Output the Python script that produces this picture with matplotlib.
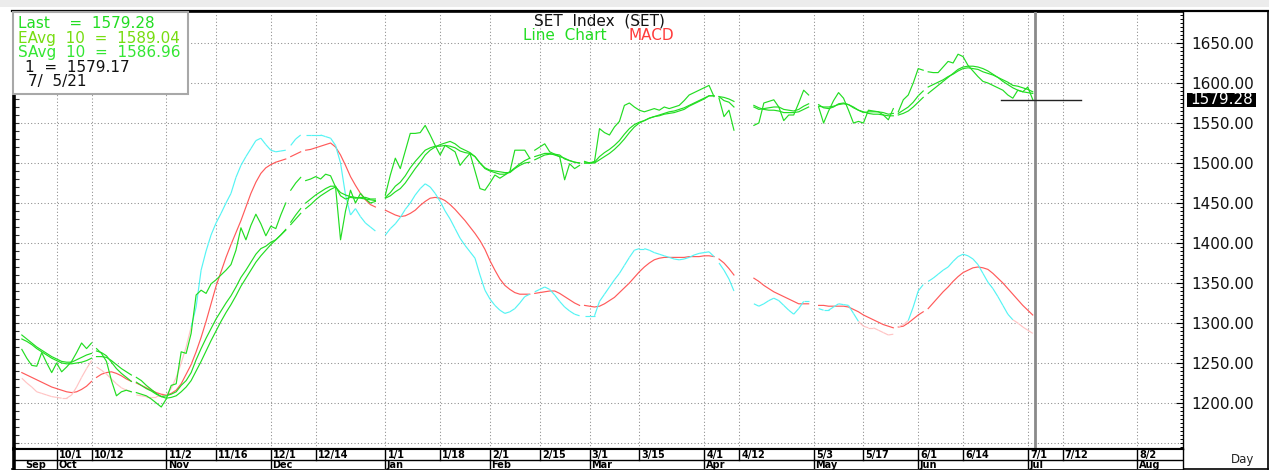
import numpy as np
import pandas as pd
import matplotlib
matplotlib.use("Agg")
import matplotlib.pyplot as plt
from matplotlib.collections import LineCollection
from matplotlib.patches import Rectangle
from matplotlib.ticker import MultipleLocator, FixedLocator, FormatStrFormatter

nan = None
first_day = "2020-09-22"
last_day = "2021-07-02"
axis_origin = "2020-10-01"

# one value per weekday slot (Sep 22 2020 .. Jul 2 2021); None = no point
close = [
    1267, 1256, 1247, 1246, 1263, 1250, 1238,
    1250, 1239, 1245, 1252, 1263, 1275, 1268, 1275, 1268, 1262, 1252, 1228, 1209, 1214, 1216, 1214, 1213, 1211, 1209, 1205, 1200, 1195,
    1205, 1222, 1224, 1264, 1262, 1287, 1335, 1341, 1337, 1349, 1354, 1360, 1366, 1373, 1391, 1419, 1404, 1422, 1436, 1424, 1409,
    1421, 1418, 1435, 1450, 1466, 1475, 1482, 1478, 1480, 1483, 1480, 1486, 1484, 1470, 1404, 1440, 1466, 1450, 1462, 1455, 1450, 1452, nan,
    1460, 1485, 1506, 1493, 1515, 1537, 1537, 1538, 1547, 1535, 1522, 1510, 1522, 1518, 1514, 1497, 1505, 1512, 1490, 1468, 1466,
    1475, 1485, 1481, 1485, 1489, 1516, 1516, 1516, 1506, 1516, 1520, 1524, 1514, 1511, 1508, 1479, 1499, 1493, 1497, 1502,
    1500, 1502, 1543, 1538, 1535, 1545, 1552, 1572, 1575, 1570, 1566, 1564, 1566, 1568, 1566, 1570, 1568, 1570, 1572, 1578, 1585, 1588, 1591,
    1594, 1597, 1583, 1581, 1558, 1566, 1541, nan, nan, nan, 1547, 1550, 1575, 1577, 1579, 1570, 1553, 1560, 1560, 1575, 1591, 1585,
    nan, 1570, 1550, 1565, 1578, 1588, 1581, 1566, 1550, 1552, 1550, 1566, 1565, 1564, 1560, 1554, 1568, 1564, 1579, 1585, 1600,
    1618, 1616, 1614, 1613, 1613, 1620, 1627, 1625, 1636, 1633, 1622, 1615, 1608, 1602, 1600, 1597, 1594, 1591, 1585, 1581, 1591, 1589,
    1595, 1579.28,
]
ema10 = [
    1285, 1280, 1275, 1270, 1266, 1262, 1258,
    1255, 1252, 1251, 1251, 1254, 1257, 1260, 1262, 1265, 1263, 1259, 1251, 1243, 1237, 1232, 1227, 1226, 1222, 1218, 1215, 1211, 1208,
    1209, 1211, 1214, 1222, 1228, 1238, 1254, 1268, 1281, 1293, 1305, 1315, 1325, 1334, 1345, 1357, 1366, 1376, 1386, 1393, 1396,
    1401, 1404, 1410, 1417, 1426, 1435, 1443, 1450, 1455, 1460, 1464, 1468, 1471, 1471, 1459, 1455, 1457, 1456, 1457, 1457, 1455, 1455, nan,
    1457, 1463, 1471, 1476, 1484, 1494, 1502, 1509, 1516, 1519, 1521, 1521, 1522, 1521, 1519, 1515, 1513, 1512, 1508, 1500, 1494,
    1491, 1490, 1489, 1488, 1488, 1493, 1497, 1500, 1501, 1504, 1507, 1510, 1511, 1511, 1510, 1505, 1503, 1501, 1500, 1500,
    1500, 1501, 1508, 1513, 1517, 1522, 1528, 1536, 1543, 1548, 1551, 1553, 1556, 1558, 1559, 1561, 1562, 1563, 1565, 1567, 1571, 1574, 1577,
    1580, 1584, 1584, 1583, 1578, 1576, 1570, nan, nan, nan, 1570, 1567, 1568, 1569, 1570, 1570, 1567, 1566, 1565, 1567, 1571, 1574,
    nan, 1573, 1569, 1568, 1570, 1574, 1575, 1573, 1569, 1566, 1563, 1564, 1564, 1564, 1563, 1561, 1562, 1562, 1566, 1570, 1576,
    1584, 1590, 1595, 1598, 1601, 1604, 1608, 1611, 1615, 1618, 1619, 1618, 1617, 1614, 1612, 1610, 1607, 1604, 1601, 1597, 1596, 1594,
    1592, 1589.04,
]
sma10 = [
    1280, 1277, 1273, 1268, 1264, 1260, 1256,
    1253, 1250, 1249, 1249, 1250, 1251, 1253, 1256, 1258, 1258, 1257, 1253, 1248, 1243, 1239, 1235, 1232, 1228, 1222, 1217, 1212, 1208,
    1206, 1207, 1209, 1214, 1220, 1228, 1240, 1252, 1265, 1278, 1290, 1302, 1313, 1323, 1334, 1346, 1356, 1366, 1376, 1384, 1391,
    1398, 1404, 1410, 1416, 1423, 1430, 1437, 1443, 1448, 1454, 1459, 1463, 1467, 1470, 1463, 1460, 1458, 1457, 1456, 1455, 1454, 1453, nan,
    1456, 1459, 1464, 1468, 1475, 1484, 1493, 1501, 1510, 1516, 1520, 1523, 1525, 1527, 1524, 1519, 1516, 1513, 1508, 1500, 1493,
    1490, 1488, 1486, 1486, 1489, 1494, 1499, 1503, 1506, 1508, 1510, 1512, 1512, 1510, 1508, 1506, 1503, 1501, 1500, 1500,
    1500, 1500, 1504, 1508, 1512, 1517, 1523, 1530, 1538, 1545, 1550, 1553, 1556, 1558, 1560, 1562, 1564, 1565, 1567, 1569, 1572, 1575, 1578,
    1581, 1584, 1584, 1583, 1582, 1580, 1577, nan, nan, nan, 1572, 1569, 1567, 1566, 1566, 1565, 1563, 1563, 1563, 1564, 1567, 1570,
    nan, 1571, 1570, 1570, 1571, 1573, 1574, 1573, 1570, 1566, 1564, 1562, 1561, 1561, 1560, 1559, 1559, 1560, 1562, 1565, 1570,
    1576, 1582, 1587, 1592, 1597, 1602, 1607, 1612, 1617, 1620, 1621, 1621, 1620, 1618, 1615, 1611, 1607, 1602, 1598, 1594, 1591, 1589,
    1588, 1586.96,
]
# MACD lines as drawn on the price scale
macd_line = [
    1231, 1225, 1220, 1214, 1212, 1210, 1208,
    1207, 1206, 1206, 1210, 1220, 1232, 1243, 1253, 1245, 1241, 1236, 1230, 1224, 1219, 1216, 1214, 1210, 1209, 1208, 1208, 1208, 1209,
    1210, 1218, 1232, 1250, 1270, 1295, 1320, 1366, 1390, 1410, 1425, 1437, 1450, 1462, 1482, 1497, 1508, 1518, 1528, 1531, 1523,
    1516, 1514, 1515, 1516, 1522, 1530, 1535, 1535, 1535, 1535, 1535, 1533, 1531, 1522, 1500, 1460, 1435, 1443, 1433, 1425, 1420, 1415, nan,
    1410, 1418, 1424, 1432, 1442, 1450, 1460, 1468, 1474, 1470, 1462, 1452, 1440, 1430, 1418, 1406, 1397, 1389, 1381, 1360, 1341,
    1330, 1322, 1316, 1312, 1314, 1318, 1325, 1333, 1336, 1339, 1342, 1345, 1342, 1335, 1327, 1320, 1315, 1311, 1309, 1309,
    1309, 1309, 1327, 1336, 1345, 1354, 1362, 1372, 1382, 1391, 1393, 1393, 1391, 1388, 1386, 1384, 1382, 1380, 1379, 1380, 1382, 1385, 1387,
    1388, 1389, 1383, 1375, 1366, 1355, 1340, nan, nan, nan, 1324, 1321, 1324, 1328, 1331, 1328, 1322, 1316, 1311, 1318, 1327, 1327,
    nan, 1318, 1316, 1316, 1320, 1324, 1323, 1322, 1312, 1302, 1296, 1294, 1294, 1291, 1288, 1285, 1286, 1295, 1298, 1303, 1320,
    1340, 1348, 1352, 1356, 1361, 1366, 1370, 1377, 1383, 1386, 1384, 1380, 1373, 1362, 1351, 1343, 1333, 1322, 1311, 1304, 1300, 1295,
    1291, 1287,
]
signal_line = [
    1238, 1235, 1232, 1229, 1226, 1223, 1220,
    1218, 1216, 1214, 1213, 1214, 1217, 1221, 1227, 1232, 1236, 1238, 1239, 1237, 1234, 1230, 1227, 1225, 1222, 1219, 1216, 1213, 1211,
    1210, 1212, 1216, 1224, 1236, 1248, 1264, 1282, 1302, 1324, 1346, 1364, 1382, 1398, 1413, 1428, 1445, 1462, 1476, 1487, 1494,
    1498, 1501, 1503, 1505, 1508, 1511, 1514, 1516, 1517, 1519, 1521, 1523, 1525, 1520, 1510, 1497, 1483, 1472, 1462, 1454, 1448, 1445, nan,
    1441, 1438, 1435, 1433, 1434, 1437, 1441, 1447, 1452, 1456, 1457, 1456, 1453, 1448, 1442, 1435, 1428, 1420, 1412, 1403, 1392,
    1378, 1366, 1355, 1347, 1342, 1338, 1336, 1336, 1336, 1337, 1338, 1339, 1340, 1340, 1337, 1333, 1329, 1325, 1322, 1322,
    1321, 1320, 1321, 1324, 1328, 1332, 1338, 1344, 1350, 1357, 1364, 1370, 1375, 1379, 1381, 1382, 1382, 1382, 1382, 1382, 1383, 1383, 1383,
    1384, 1384, 1383, 1380, 1375, 1368, 1360, nan, nan, nan, 1356, 1352, 1347, 1343, 1339, 1336, 1333, 1330, 1327, 1324, 1324, 1324,
    nan, 1322, 1322, 1321, 1321, 1321, 1321, 1320, 1317, 1314, 1310, 1307, 1304, 1301, 1298, 1296, 1294, 1295, 1296, 1300, 1305,
    1310, 1314, 1318, 1325, 1332, 1339, 1345, 1352, 1358, 1363, 1366, 1369, 1370, 1369, 1367, 1362, 1356, 1350, 1343, 1336, 1329, 1322,
    1316, 1310,
]
# holidays after which the line restarts
line_breaks = ["2020-10-13", "2020-10-23", "2020-12-07", "2020-12-10", "2021-02-12",
               "2021-02-26", "2021-04-06", "2021-05-26", "2021-06-03"]

day_ticks = ["2020-10-01", "2020-10-12", "2020-11-02", "2020-11-16", "2020-12-01", "2020-12-14",
             "2021-01-01", "2021-01-18", "2021-02-01", "2021-02-15", "2021-03-01", "2021-03-15",
             "2021-04-01", "2021-04-12", "2021-05-03", "2021-05-17", "2021-06-01", "2021-06-14",
             "2021-07-01", "2021-07-12", "2021-08-02"]
day_labels = ["10/1", "10/12", "11/2", "11/16", "12/1", "12/14", "1/1", "1/18", "2/1", "2/15",
              "3/1", "3/15", "4/1", "4/12", "5/3", "5/17", "6/1", "6/14", "7/1", "7/12", "8/2"]
month_ticks = ["2020-10-01", "2020-11-02", "2020-12-01", "2021-01-01", "2021-02-01", "2021-03-01",
               "2021-04-01", "2021-05-03", "2021-06-01", "2021-07-01", "2021-08-02"]
month_labels = ["Oct", "Nov", "Dec", "Jan", "Feb", "Mar", "Apr", "May", "Jun", "Jul", "Aug"]
first_month_label = "Sep"
price_ticks = [1200, 1250, 1300, 1350, 1400, 1450, 1500, 1550, 1600, 1650]
grid_levels = [1150, 1200, 1250, 1300, 1350, 1400, 1450, 1500, 1550, 1600, 1650]
last_value = 1579.28
ema_last = 1589.04
sma_last = 1586.96
cursor_value = 1579.17
cursor_date = "7/  5/21"
macd_zero = 1305

# ---------------------------------------------------------------
W, H = 1269, 470
GREEN = "#22dd22"
RED = "#ff5a5a"
CYAN = "#55f4f4"
PINK = "#ffc4c4"
GRID = "#8a8a8a"
GRID_STYLE = dict(color=GRID, lw=0.75, ls=(0, (1.0, 2.2)), zorder=1)
LW = 0.85

dates = pd.bdate_range(first_day, last_day).values.astype("datetime64[D]")
slots = np.busday_count(np.datetime64(axis_origin), dates).astype(float)
for s in (close, ema10, sma10, macd_line, signal_line):
    assert len(s) == len(slots), (len(s), len(slots))


def slot_of(d):
    return float(np.busday_count(np.datetime64(axis_origin), np.datetime64(d)))


def series_xy(vals):
    y = np.array([np.nan if v is None else v for v in vals], float)
    bx = np.array([slot_of(b) - 0.5 for b in line_breaks])
    X = np.concatenate([slots, bx])
    Y = np.concatenate([y, np.full(len(bx), np.nan)])
    o = np.argsort(X, kind="stable")
    return X[o], Y[o]


def fx(px):
    return px / W


def fy(py):
    return 1 - py / H


fig = plt.figure(figsize=(W / 100, H / 100), dpi=100)
fig.patch.set_facecolor("white")

# background / frame
bg = fig.add_axes([0, 0, 1, 1])
bg.set_xlim(0, W)
bg.set_ylim(H, 0)
bg.axis("off")
bg.add_patch(Rectangle((0, 0), W, 7, color="#ececec", lw=0))
bg.plot([12, 1268], [11, 11], color="black", lw=1.6)
bg.plot([1267.5, 1267.5], [11, 469], color="black", lw=1.2)
bg.plot([12, 1268], [469.3, 469.3], color="black", lw=1.2)
bg.text(1243, 459, "Day", ha="center", va="center", fontsize=8.5, color="#222222")

x_left, x_right = -8.57, 226.17
y_bot, y_top = 1142.5, 1688.75

ax = fig.add_axes([fx(14), fy(449), (1183 - 14) / W, (449 - 12) / H])
ax.set_xlim(x_left, x_right)
ax.set_ylim(y_bot, y_top)
ax.set_facecolor("white")
for k, sp in ax.spines.items():
    sp.set_color("black")
ax.spines["left"].set_linewidth(2.6)
ax.spines["top"].set_linewidth(1.2)
ax.spines["right"].set_linewidth(1.0)
ax.spines["bottom"].set_linewidth(1.5)
ax.set_xticks([])
ax.yaxis.set_major_locator(FixedLocator(price_ticks))
ax.yaxis.set_minor_locator(MultipleLocator(10))
ax.tick_params(axis="y", which="both", direction="in", left=True, right=False,
               labelleft=False, labelright=False, length=3.5, width=0.8, color="#333333")

ax2 = ax.twinx()
ax2.set_ylim(y_bot, y_top)
ax2.yaxis.set_major_locator(FixedLocator(price_ticks))
ax2.yaxis.set_minor_locator(MultipleLocator(5))
ax2.yaxis.set_major_formatter(FormatStrFormatter("%.2f"))
ax2.tick_params(axis="y", which="major", direction="in", length=5, width=0.8, pad=6,
                labelsize=11, labelcolor="#111111")
ax2.tick_params(axis="y", which="minor", direction="in", length=2.5, width=0.7)
for sp in ax2.spines.values():
    sp.set_visible(False)

# grid
for v in grid_levels:
    ax.axhline(v, **GRID_STYLE)
for d in day_ticks:
    ax.axvline(slot_of(d), **GRID_STYLE)

# MACD / signal
X, Y = series_xy(signal_line)
ax.plot(X, Y, color=RED, lw=LW, zorder=3)
X, Y = series_xy(macd_line)
segs, cols = [], []
for i in range(len(X) - 1):
    if np.isfinite(Y[i]) and np.isfinite(Y[i + 1]):
        segs.append([(X[i], Y[i]), (X[i + 1], Y[i + 1])])
        cols.append(PINK if (Y[i] + Y[i + 1]) / 2 < macd_zero else CYAN)
ax.add_collection(LineCollection(segs, colors=cols, linewidths=LW, zorder=3))

# price lines
for s in (sma10, ema10, close):
    X, Y = series_xy(s)
    ax.plot(X, Y, color=GREEN, lw=LW, zorder=4)

# cursor lines
last_slot = slots[-1]
ax.axvline(last_slot + 0.4, color="#8a8a8a", lw=2.0, zorder=5)
ax.plot([last_slot - 6.4, last_slot + 9.7], [last_value, last_value], color="#222222", lw=1.0, zorder=6)

# date rows
axd = fig.add_axes([fx(14), fy(469), (1183 - 14) / W, 20 / H], sharex=ax)
axd.set_ylim(0, 20)
axd.set_xlim(x_left, x_right)
axd.set_xticks([])
axd.set_yticks([])
axd.set_facecolor("white")
axd.spines["left"].set_linewidth(2.6)
axd.spines["right"].set_linewidth(1.0)
axd.spines["top"].set_linewidth(1.5)
axd.spines["bottom"].set_visible(False)
axd.axhline(9, color="black", lw=1.0)
for d, lab in zip(day_ticks, day_labels):
    s = slot_of(d)
    axd.plot([s, s], [9, 20], color="black", lw=1.0)
    axd.text(s + 0.45, 14.3, lab, ha="left", va="center", fontsize=7, fontweight="bold")
for d, lab in zip(month_ticks, month_labels):
    s = slot_of(d)
    axd.plot([s, s], [0, 9], color="black", lw=1.0)
    axd.text(s + 0.3, 4.2, lab, ha="left", va="center", fontsize=7, fontweight="bold")
axd.text((x_left + slot_of(month_ticks[0])) / 2, 4.2, first_month_label, ha="center", va="center",
         fontsize=7, fontweight="bold")

# overlay: title, legend, last-value flag
ov = fig.add_axes([0, 0, 1, 1], facecolor="none")
ov.set_xlim(0, W)
ov.set_ylim(H, 0)
ov.axis("off")
ov.text(599, 20.5, "SET  Index  (SET)", ha="center", va="center", fontsize=11, color="#111111")
ov.text(523, 35, "Line  Chart", ha="left", va="center", fontsize=11, color="#22dd22")
ov.text(629, 35, "MACD", ha="left", va="center", fontsize=11, color="#ff3b3b")

ov.add_patch(Rectangle((12.5, 12), 175, 82, facecolor="white", edgecolor="#a8a8a8", lw=1.5))
ov.text(18, 28, "Last    =  %.2f" % last_value, ha="left", va="baseline", fontsize=11, color="#22dd22")
ov.text(18, 43, "EAvg  10  =  %.2f" % ema_last, ha="left", va="baseline", fontsize=11, color="#77dd11")
ov.text(18, 57, "SAvg  10  =  %.2f" % sma_last, ha="left", va="baseline", fontsize=11, color="#33e633")
ov.text(25, 72, "1  =  %.2f" % cursor_value, ha="left", va="baseline", fontsize=11, color="#111111")
ov.text(28, 86, cursor_date, ha="left", va="baseline", fontsize=11, color="#111111")

ov.add_patch(Rectangle((1187, 92.5), 69, 14, facecolor="black", edgecolor="none"))
ov.text(1221.5, 99.5, "%.2f" % last_value, ha="center", va="center", fontsize=11, color="white")

fig.savefig("out.png", dpi=100, facecolor="white")
